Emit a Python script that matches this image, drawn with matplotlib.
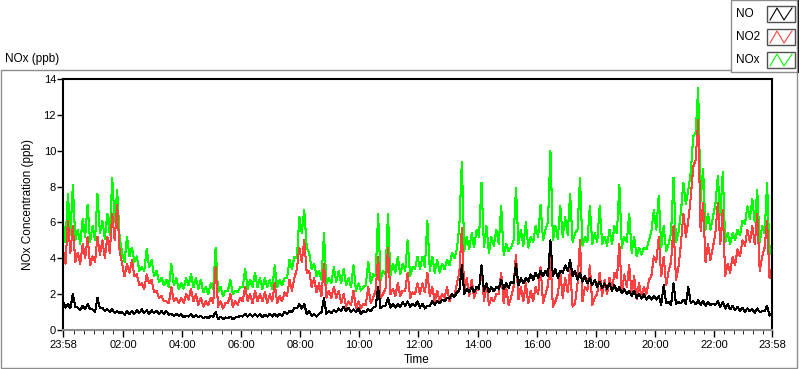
import numpy as np
import matplotlib.pyplot as plt
from matplotlib.patches import Rectangle
from matplotlib.lines import Line2D

plt.rcParams['font.family'] = ['Liberation Sans', 'DejaVu Sans']

# readings on the 10-minute marks, counted from 23:58
no = [1.6, 1.45, 2.0, 1.25, 1.35, 1.45, 1.15, 1.8, 1.25, 1.15, 1.15, 1.05, 1.0, 1.05, 1.05, 1.1, 1.15, 1.1, 1.1, 1.05, 1.05, 1.05, 0.9, 0.9, 0.9,
      0.8, 0.9, 0.85, 0.8, 0.75, 0.8, 1.0, 0.75, 0.7, 0.75, 0.7, 0.8, 0.9, 0.9, 0.9, 0.9, 0.85, 0.9, 0.9, 0.9, 1.0, 1.05, 1.25, 1.45,
      1.45, 1.05, 0.9, 0.9, 1.8, 1.05, 1.1, 1.2, 1.3, 1.25, 1.15, 1.2, 1.05, 1.15, 1.25, 2.4, 1.35, 1.8, 1.45, 1.45, 1.55, 1.6, 1.45, 1.6,
      1.45, 1.35, 1.6, 1.6, 1.7, 1.8, 2.0, 2.1, 3.6, 2.3, 2.4, 2.4, 3.6, 2.6, 2.4, 2.4, 2.8, 2.6, 2.7, 3.7, 2.9, 2.9, 3.1, 3.2,
      3.3, 3.3, 5.0, 3.4, 3.3, 3.6, 3.9, 3.3, 3.2, 3.0, 2.9, 2.8, 2.7, 2.6, 2.6, 2.5, 2.4, 2.3, 2.2, 2.2, 2.0, 2.0, 1.9, 1.9, 1.9,
      2.5, 1.55, 2.6, 1.55, 1.7, 2.4, 1.6, 1.65, 1.6, 1.55, 1.45, 1.6, 1.55, 1.45, 1.35, 1.3, 1.25, 1.2, 1.15, 1.2, 1.05, 1.35, 0.9]

no2 = [4.5, 6.1, 5.8, 4.3, 4.8, 5.2, 4.1, 5.2, 5.0, 5.2, 6.5, 7.0, 3.7, 3.7, 3.9, 3.1, 2.6, 3.1, 2.8, 2.2, 1.9, 1.6, 2.4, 1.8, 1.8,
       2.0, 2.3, 2.0, 1.8, 1.6, 1.8, 3.5, 1.6, 1.5, 2.0, 1.6, 1.8, 2.4, 2.0, 2.2, 2.0, 2.1, 2.0, 2.6, 1.9, 2.1, 2.8, 2.9, 4.6,
       5.0, 3.3, 2.9, 2.6, 3.7, 2.2, 2.4, 2.2, 2.0, 1.6, 2.2, 1.6, 1.45, 2.4, 1.8, 4.1, 2.0, 4.6, 2.3, 2.6, 2.2, 3.2, 2.1, 2.6,
       2.6, 3.2, 2.4, 2.2, 2.0, 2.4, 2.0, 2.6, 5.7, 2.9, 2.8, 2.2, 3.6, 2.6, 1.8, 2.0, 3.2, 2.4, 1.8, 4.2, 2.4, 2.6, 2.2, 2.4,
       3.5, 2.0, 4.0, 1.6, 3.2, 2.9, 3.4, 1.5, 5.0, 2.4, 3.6, 1.8, 3.2, 2.8, 2.9, 3.2, 4.8, 3.1, 3.6, 3.0, 2.6, 2.4, 2.8, 4.1, 5.2,
       4.1, 3.3, 5.8, 3.5, 6.5, 6.1, 9.1, 11.7, 7.1, 4.8, 4.6, 7.1, 6.7, 3.7, 4.1, 4.5, 5.0, 5.6, 5.8, 6.5, 4.1, 6.1, 3.5]

nox = [6.0, 7.6, 8.1, 5.6, 6.2, 7.0, 5.8, 7.6, 6.1, 6.5, 8.5, 7.8, 4.3, 5.2, 4.6, 4.1, 3.5, 4.5, 3.9, 3.3, 2.9, 2.8, 3.7, 2.9, 2.6,
       2.9, 3.1, 2.9, 2.8, 2.4, 2.6, 4.6, 2.4, 2.2, 2.8, 2.2, 2.4, 3.4, 2.8, 3.2, 2.9, 2.9, 2.8, 3.6, 2.8, 2.9, 3.9, 4.1, 6.3,
       6.7, 4.3, 3.7, 3.3, 5.4, 2.9, 3.5, 3.3, 3.4, 2.9, 3.6, 2.6, 2.4, 3.8, 3.1, 6.5, 3.3, 6.5, 3.7, 4.1, 3.7, 5.0, 3.5, 4.1,
       4.1, 6.1, 4.1, 3.9, 3.7, 3.9, 4.3, 4.5, 9.4, 5.2, 5.4, 5.6, 8.2, 5.8, 5.2, 5.6, 6.9, 4.8, 4.6, 7.9, 5.6, 6.0, 5.2, 5.8,
       7.0, 5.6, 10.0, 5.8, 6.9, 6.3, 7.6, 5.4, 8.5, 5.2, 6.9, 5.4, 6.9, 5.2, 5.6, 5.8, 8.1, 5.2, 6.5, 5.2, 4.6, 4.6, 5.0, 6.7, 7.5,
       5.8, 4.8, 8.5, 5.4, 8.2, 7.8, 10.8, 13.5, 9.0, 6.5, 6.3, 8.6, 8.8, 5.4, 5.4, 5.6, 6.1, 6.9, 7.3, 7.8, 5.8, 8.2, 4.8]

# dips read between the 10-minute marks (lower edge of the noisy band)
no_dips = [1.25, 1.2, 1.3, 1.1, 1.15, 1.15, 1.0, 1.2, 1.05, 1.0, 0.95, 0.95,
           0.85, 0.9, 0.9, 0.95, 0.95, 0.9, 0.95, 0.9, 0.9, 0.85, 0.8, 0.8,
           0.7, 0.75, 0.7, 0.7, 0.65, 0.65, 0.75, 0.6, 0.6, 0.65, 0.6, 0.7, 0.75, 0.75, 0.75, 0.75, 0.7, 0.75, 0.75, 0.75, 0.8, 0.9, 1.0, 1.2,
           1.2, 0.9, 0.8, 0.75, 1.0, 0.9, 0.95, 1.0, 1.05, 1.05, 1.0, 1.0, 0.9, 1.0, 1.05, 1.3, 1.2, 1.35, 1.25, 1.25, 1.3, 1.35, 1.3, 1.35,
           1.25, 1.2, 1.35, 1.4, 1.5, 1.6, 1.75, 1.85, 2.2, 2.0, 2.1, 2.1, 2.3, 2.2, 2.1, 2.15, 2.3, 2.3, 2.35, 2.6, 2.5, 2.6, 2.7, 2.8,
           2.9, 3.0, 3.0, 3.0, 2.9, 3.2, 3.3, 3.0, 2.8, 2.7, 2.6, 2.5, 2.4, 2.35, 2.3, 2.2, 2.15, 2.05, 2.0, 1.9, 1.8, 1.75, 1.7, 1.7,
           1.7, 1.4, 1.5, 1.4, 1.45, 1.5, 1.45, 1.5, 1.45, 1.4, 1.35, 1.4, 1.4, 1.3, 1.2, 1.15, 1.1, 1.05, 1.0, 1.05, 0.95, 1.0, 1.05, 0.8]

no2_dips = [3.7, 4.3, 3.8, 3.7, 4.0, 3.6, 3.8, 4.2, 4.0, 4.3, 5.0, 4.4,
            3.0, 3.2, 3.0, 2.5, 2.3, 2.6, 2.1, 1.8, 1.6, 1.5, 1.6, 1.5,
            1.5, 1.7, 1.6, 1.4, 1.3, 1.4, 1.5, 1.3, 1.2, 1.5, 1.3, 1.4, 1.6, 1.6, 1.5, 1.6, 1.6, 1.5, 1.6, 1.5, 1.6, 1.9, 2.2, 3.4,
            3.8, 3.2, 2.4, 2.1, 1.9, 1.8, 1.8, 1.8, 1.5, 1.3, 1.4, 1.2, 1.2, 1.4, 1.5, 2.2, 1.8, 2.3, 2.0, 1.9, 1.9, 2.2, 1.8, 2.0,
            2.0, 2.1, 1.9, 1.6, 1.6, 1.8, 1.6, 1.9, 3.2, 2.1, 1.9, 1.8, 2.3, 1.6, 1.4, 1.6, 2.0, 1.5, 1.4, 2.4, 1.7, 1.6, 1.5, 1.6,
            2.0, 1.5, 2.5, 1.3, 2.0, 1.8, 2.1, 1.3, 2.6, 1.6, 2.2, 1.4, 2.0, 1.9, 2.0, 2.2, 2.9, 2.1, 2.4, 2.0, 1.7, 1.8, 2.0, 3.0,
            3.8, 3.0, 2.5, 3.8, 2.8, 4.8, 5.2, 7.4, 9.5, 5.5, 3.8, 3.9, 5.4, 4.8, 3.0, 3.2, 3.6, 4.1, 4.7, 4.9, 4.8, 3.3, 4.6, 2.9]

nox_dips = [4.9, 5.3, 5.0, 4.8, 5.2, 4.9, 5.0, 5.4, 5.1, 5.3, 6.0, 5.2,
            3.8, 4.1, 3.8, 3.3, 3.3, 3.5, 3.0, 2.7, 2.5, 2.4, 2.5, 2.3,
            2.3, 2.5, 2.4, 2.3, 2.1, 2.0, 2.3, 2.1, 1.9, 2.2, 2.0, 2.1, 2.4, 2.3, 2.4, 2.4, 2.3, 2.4, 2.3, 2.4, 2.5, 2.9, 3.4, 4.0,
            5.4, 4.6, 3.4, 3.0, 2.8, 2.6, 2.6, 2.7, 2.6, 2.5, 2.4, 2.2, 2.2, 2.5, 2.6, 3.0, 2.8, 3.1, 3.0, 3.2, 3.1, 3.3, 3.0, 3.4,
            3.4, 3.5, 3.3, 3.2, 3.2, 3.4, 3.6, 4.0, 5.8, 4.4, 4.5, 4.6, 5.2, 4.6, 4.3, 4.7, 4.8, 4.2, 4.4, 5.0, 4.8, 4.7, 4.6, 4.9,
            5.2, 5.0, 6.0, 5.0, 5.1, 5.2, 5.3, 4.9, 5.6, 4.7, 4.9, 4.8, 4.9, 4.8, 4.7, 4.8, 5.4, 4.6, 4.9, 4.3, 4.1, 4.2, 4.5, 5.5,
            5.6, 4.6, 4.4, 5.4, 4.9, 6.6, 7.0, 8.8, 11.0, 7.2, 5.6, 5.6, 7.0, 6.4, 4.9, 4.8, 5.0, 5.3, 5.9, 6.2, 6.0, 4.9, 5.4, 4.2]

series_names = ['NO', 'NO2', 'NOx']
tick_minutes = [0, 122, 242, 362, 482, 602, 722, 842, 962, 1082, 1202, 1322, 1440]
tick_labels = ['23:58', '02:00', '04:00', '06:00', '08:00', '10:00', '12:00',
               '14:00', '16:00', '18:00', '20:00', '22:00', '23:58']

colors = {'NO': 'black', 'NO2': '#ff4040', 'NOx': '#00ff00'}
W, H = 800, 369


def px(x, y):
    return x / W, 1 - y / H


def merge(marks, dips):
    out = np.empty(len(marks) + len(dips))
    out[0::2] = marks
    out[1::2] = dips
    return out


minutes = np.arange(0, 1441, 5)

fig = plt.figure(figsize=(W / 100, H / 100), dpi=100)

# outer panel frame
fig.add_artist(Rectangle(px(0.5, 367.5), 796 / W, 298 / H, transform=fig.transFigure,
                         fill=False, edgecolor='#8c8c8c', lw=1, zorder=0))

ax = fig.add_axes([63 / W, 1 - 330 / H, (772 - 63) / W, (330 - 79) / H])
ax.plot(minutes, merge(nox, nox_dips), color=colors['NOx'], lw=0.75, antialiased=False)
ax.plot(minutes, merge(no2, no2_dips), color=colors['NO2'], lw=0.75, antialiased=False)
ax.plot(minutes, merge(no, no_dips), color=colors['NO'], lw=0.75, antialiased=False)

ax.set_xlim(0, 1440)
ax.set_ylim(0, 14)
ax.set_yticks(range(0, 15, 2))
ax.set_xticks(tick_minutes, tick_labels)
minor = [m for m in range(22, 1440, 20) if (m - 122) % 120 != 0]
ax.set_xticks(minor, minor=True)
ax.tick_params(axis='both', direction='out', labelsize=8, width=1, color='black', pad=2)
ax.tick_params(axis='x', which='major', length=5)
ax.tick_params(axis='x', which='minor', length=3)
ax.tick_params(axis='y', length=4, pad=1)
for side in ['left', 'top', 'right']:
    ax.spines[side].set_color('black')
    ax.spines[side].set_linewidth(1.5)
ax.spines['bottom'].set_color('#909090')
ax.spines['bottom'].set_linewidth(1.5)

fig.text(*px(28, 205), 'NOx Concentration (ppb)', rotation=90, ha='center', va='center', fontsize=8.5)
fig.text(*px(417, 360), 'Time', ha='center', va='center', fontsize=8.5)
fig.text(*px(5, 59), 'NOx (ppb)', ha='left', va='center', fontsize=8.5)

# legend box (top right)
fig.add_artist(Rectangle(px(732, 72.5), 67 / W, 72 / H, transform=fig.transFigure,
                         facecolor='black', edgecolor='none', zorder=3))
fig.add_artist(Rectangle(px(731, 71.5), 66 / W, 71 / H, transform=fig.transFigure,
                         facecolor='white', edgecolor='#8c8c8c', lw=1, zorder=4))
for k, name in enumerate(series_names):
    yc = 14 + k * 23
    fig.text(*px(736, yc), name, ha='left', va='center', fontsize=8.5, zorder=5)
    fig.add_artist(Rectangle(px(767, yc + 8), 28 / W, 16 / H, transform=fig.transFigure,
                             facecolor='white', edgecolor='#505050', lw=1, zorder=5))
    zx = [770, 777, 784, 792]
    zy = [yc + 6, yc - 6, yc + 6, yc - 6]
    fig.add_artist(Line2D([x / W for x in zx], [1 - y / H for y in zy], transform=fig.transFigure,
                          color=colors[name], lw=0.8, zorder=6))

fig.savefig('out.png', dpi=100)
